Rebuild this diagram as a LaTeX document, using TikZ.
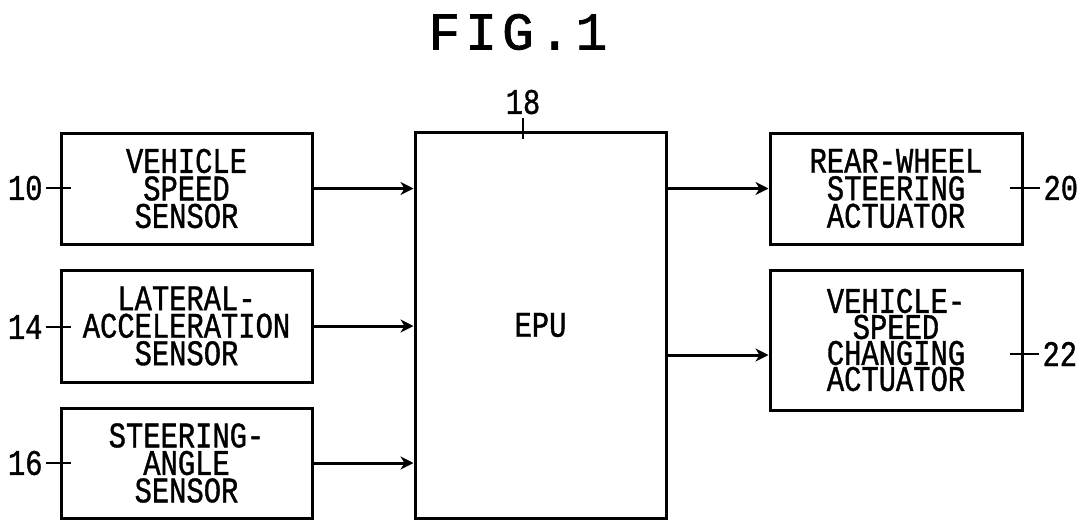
\documentclass[tikz,border=0pt]{standalone}
\usepackage{fontspec}
\setmainfont[FakeBold=1.2]{Liberation Mono}
\newfontfamily\boxfont[FakeStretch=0.8,FakeBold=1]{Liberation Mono}
\usetikzlibrary{arrows.meta}
\begin{document}
\begin{tikzpicture}[x=1pt,y=-1pt,line width=3pt,
  blk/.style={draw,line width=3pt,inner sep=0pt,align=center,
    font=\boxfont\fontsize{36}{27.5}\selectfont},
  num/.style={inner sep=0pt,font=\boxfont\fontsize{36}{27.5}\selectfont},
  arr/.style={-{Stealth[length=13pt,width=13pt,inset=4pt]},line width=3pt},
  lead/.style={line width=2.5pt}]
\useasboundingbox (0,0) rectangle (1077,520);
% title
\node[inner sep=0pt,font=\fontsize{53}{53}\selectfont] (title) at (518,32)
  {F\hspace{5pt}I\hspace{5pt}G\hspace{5pt}.\hspace{5pt}1};
% input boxes
\node[blk,minimum width=251pt,minimum height=111pt] (b1) at (186.5,188.5)
  {VEHICLE\\SPEED\\SENSOR};
\node[blk,minimum width=251pt,minimum height=112pt] (b2) at (186.5,326)
  {LATERAL-\\ACCELERATION\\SENSOR};
\node[blk,minimum width=251pt,minimum height=110pt] (b3) at (186.5,463)
  {STEERING-\\ANGLE\\SENSOR};
% EPU
\node[blk,minimum width=251pt,minimum height=386pt] (epu) at (540.5,325)
  {EPU};
% output boxes
\node[blk,minimum width=252pt,minimum height=111pt] (a1) at (896,188.5)
  {REAR-WHEEL\\STEERING\\ACTUATOR};
\node[blk,minimum width=252pt,minimum height=140pt,
  font=\boxfont\fontsize{36}{26}\selectfont] (a2) at (896,340)
  {VEHICLE-\\SPEED\\CHANGING\\ACTUATOR};
% reference numerals
\node[num,anchor=east] (n10) at (44,188) {10};
\node[num,anchor=east] (n14) at (44,327) {14};
\node[num,anchor=east] (n16) at (44,463) {16};
\node[num] (n18) at (523,102) {18};
\node[num,anchor=west] (n20) at (1042,188) {20};
\node[num,anchor=west] (n22) at (1041,354) {22};
% leaders
\draw[lead] ([xshift=2pt]n10.east) -- ([xshift=11pt]b1.west |- n10.east);
\draw[lead] ([xshift=2pt]n14.east) -- ([xshift=11pt]b2.west |- n14.east);
\draw[lead] ([xshift=2pt]n16.east) -- ([xshift=11pt]b3.west |- n16.east);
\draw[lead] (epu.north -| n18) -- ++(0,-13);
\draw[lead] (epu.north -| n18) -- ++(0,8);
\draw[lead] ([xshift=-2pt]n20.west) -- ([xshift=-14pt]a1.east |- n20.west);
\draw[lead] ([xshift=-2pt]n22.west) -- ([xshift=-14pt]a2.east |- n22.west);
% connectors
\draw[arr] (b1.east) -- (b1.east -| epu.west);
\draw[arr] (b2.east) -- (b2.east -| epu.west);
\draw[arr] (b3.east) -- (b3.east -| epu.west);
\draw[arr] (epu.east |- a1.west) -- (a1.west);
\coordinate (o2) at (770,355);
\draw[arr] (epu.east |- o2) -- (a2.west |- o2);
\end{tikzpicture}
\end{document}
